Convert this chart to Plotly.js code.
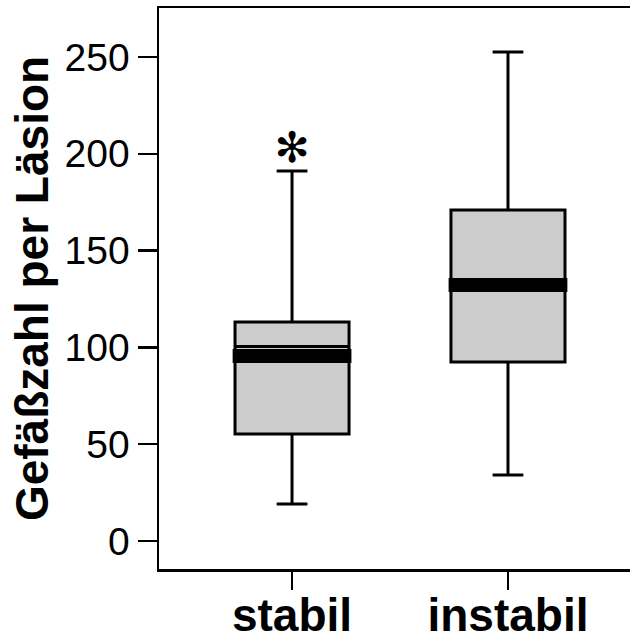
<!DOCTYPE html>
<html>
<head>
<meta charset="utf-8">
<script src="https://cdn.plot.ly/plotly-3.0.1.min.js"></script>
<style>
html, body { margin: 0; padding: 0; overflow: hidden; background: #fff; }
#chart { width: 630px; height: 640px; }
</style>
</head>
<body>
<div id="chart"></div>
<script>
// Data
const categories = ['stabil', 'instabil'];
const q1 = [55.3, 92.5];
const q3 = [113.1, 171.0];
const thinMedian = [100.4, 132.2];
const medianBand = [95.6, 132.2];
const lowerWhisker = [19.1, 34.1];
const upperWhisker = [191.1, 252.6];
const outlierCat = ['stabil'];
const outlierValues = [201.2];
const yTicks = [0, 50, 100, 150, 200, 250];

const xpos = categories.map((c, i) => i);
const boxHalf = 0.275;

const traces = [];
traces.push({
  type: 'box',
  x: xpos,
  q1: q1,
  median: thinMedian,
  q3: q3,
  lowerfence: lowerWhisker,
  upperfence: upperWhisker,
  width: 0.528,
  whiskerwidth: 0.27,
  fillcolor: '#cccccc',
  line: { color: '#000000', width: 3 },
  boxpoints: false,
  hoverinfo: 'skip',
  showlegend: false
});

categories.forEach((c, i) => {
  traces.push({
    type: 'scatter',
    mode: 'lines',
    x: [i - boxHalf, i + boxHalf],
    y: [medianBand[i], medianBand[i]],
    line: { color: '#000000', width: 14 },
    hoverinfo: 'skip',
    showlegend: false
  });
});

traces.push({
  type: 'scatter',
  mode: 'text',
  x: outlierCat.map(c => categories.indexOf(c)),
  y: outlierValues,
  text: outlierValues.map(() => '✻'),
  textfont: { family: 'DejaVu Sans', size: 42, color: '#000000' },
  textposition: 'middle center',
  hoverinfo: 'skip',
  showlegend: false
});

const layout = {
  width: 630,
  height: 640,
  margin: { l: 159, r: 0, t: 8, b: 71, pad: 0 },
  paper_bgcolor: '#ffffff',
  plot_bgcolor: '#ffffff',
  showlegend: false,
  xaxis: {
    type: 'linear',
    range: [-0.616, 1.565],
    tickvals: xpos,
    ticktext: categories,
    showline: true,
    mirror: true,
    linecolor: '#000000',
    linewidth: 2.5,
    ticks: 'outside',
    ticklen: 18,
    tickwidth: 2.5,
    tickcolor: '#000000',
    showgrid: false,
    zeroline: false,
    ticklabelstandoff: -14,
    tickfont: { family: 'Liberation Sans', size: 46, color: '#000000', weight: 'bold' }
  },
  yaxis: {
    range: [-14.46, 275.3],
    tickvals: yTicks,
    ticktext: yTicks.map(String),
    showline: true,
    linecolor: '#000000',
    linewidth: 2.5,
    ticks: 'outside',
    ticklen: 19,
    tickwidth: 2.5,
    tickcolor: '#000000',
    showgrid: false,
    zeroline: false,
    tickfont: { family: 'Liberation Sans', size: 39, color: '#000000' },
    title: {
      text: '<b>Gefäßzahl per Läsion</b>',
      font: { family: 'Liberation Sans', size: 46, color: '#000000' },
      standoff: 2
    }
  }
};

Plotly.newPlot('chart', traces, layout, { displayModeBar: false, staticPlot: true });
</script>
</body>
</html>
